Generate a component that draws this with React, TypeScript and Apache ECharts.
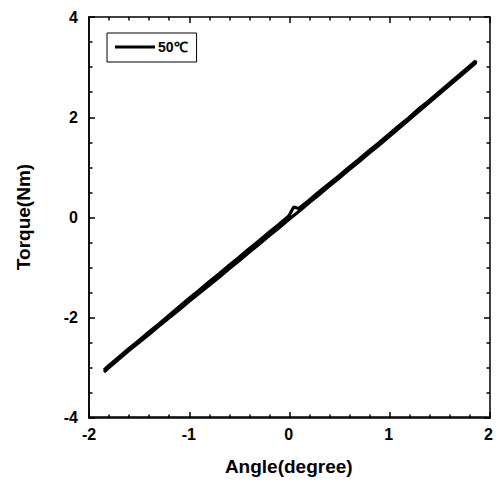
import React, { useEffect, useRef } from "react";
import * as echarts from "echarts";

// Loading branch (angle increasing)
const upAngle = [-1.85, -1.8, -1.7, -1.6, -1.5, -1.4, -1.3, -1.2, -1.1, -1.0, -0.9, -0.8, -0.7, -0.6, -0.5, -0.4, -0.3, -0.2, -0.1, 0, 0.1, 0.2, 0.3, 0.4, 0.5, 0.6, 0.7, 0.8, 0.9, 1.0, 1.1, 1.2, 1.3, 1.4, 1.5, 1.6, 1.7, 1.8, 1.87];
const upTorque = [-3.10, -3.01, -2.84, -2.67, -2.51, -2.35, -2.18, -2.02, -1.86, -1.69, -1.53, -1.37, -1.21, -1.04, -0.88, -0.71, -0.55, -0.38, -0.22, -0.05, 0.11, 0.28, 0.44, 0.61, 0.77, 0.94, 1.10, 1.27, 1.43, 1.60, 1.77, 1.94, 2.11, 2.28, 2.45, 2.62, 2.79, 2.96, 3.08];
// Unloading branch (angle decreasing)
const downAngle = [1.87, 1.8, 1.7, 1.6, 1.5, 1.4, 1.3, 1.2, 1.1, 1.0, 0.9, 0.8, 0.7, 0.6, 0.5, 0.4, 0.3, 0.2, 0.1, 0.05, 0, -0.1, -0.2, -0.3, -0.4, -0.5, -0.6, -0.7, -0.8, -0.9, -1.0, -1.1, -1.2, -1.3, -1.4, -1.5, -1.6, -1.7, -1.8, -1.85];
const downTorque = [3.12, 3.00, 2.83, 2.66, 2.49, 2.32, 2.16, 1.98, 1.82, 1.65, 1.48, 1.32, 1.15, 0.99, 0.82, 0.66, 0.50, 0.33, 0.17, 0.20, 0.02, -0.15, -0.31, -0.48, -0.64, -0.81, -0.97, -1.14, -1.30, -1.47, -1.63, -1.80, -1.97, -2.14, -2.30, -2.47, -2.63, -2.80, -2.97, -3.06];

const seriesName = "50℃";
const xName = "Angle(degree)";
const yName = "Torque(Nm)";

export default function App() {
  const ref = useRef<HTMLDivElement>(null);
  useEffect(() => {
    if (!ref.current) return;
    const chart = echarts.init(ref.current, undefined, { renderer: "svg" });
    const data: number[][] = [];
    upAngle.forEach((a, i) => data.push([a, upTorque[i]]));
    downAngle.forEach((a, i) => data.push([a, downTorque[i]]));
    const font = "'Liberation Sans', Arial, sans-serif";
    const axisLine = () => ({ show: true, onZero: false, lineStyle: { color: "#000", width: 1.5 } });
    const axisTick = () => ({ show: true, inside: true, length: 6, lineStyle: { color: "#000", width: 1.5 } });
    const minorTick = (n: number) => ({ show: true, splitNumber: n, length: 3.5, lineStyle: { color: "#000", width: 1.5 } });
    const labelStyle = () => ({ color: "#000", fontFamily: font, fontWeight: "bold", fontSize: 16 });
    const gridBox = { left: 89, right: 6, top: 17, bottom: 63 };
    const tickX = (position: string) => ({
      type: "value", gridIndex: 1, min: -2, max: 2, interval: 1, position,
      axisLine: axisLine(), axisTick: axisTick(), minorTick: minorTick(5),
      axisLabel: { show: false }, splitLine: { show: false },
    });
    const tickY = (position: string) => ({
      type: "value", gridIndex: 1, min: -4, max: 4, interval: 2, position,
      axisLine: axisLine(), axisTick: axisTick(), minorTick: minorTick(4),
      axisLabel: { show: false }, splitLine: { show: false },
    });
    chart.setOption({
      animation: false,
      backgroundColor: "#fff",
      grid: [{ ...gridBox }, { ...gridBox }],
      legend: {
        left: 107,
        top: 33,
        orient: "vertical",
        data: [{ name: seriesName, icon: "rect" }],
        itemWidth: 40,
        itemHeight: 3,
        padding: [7, 9, 8, 8],
        borderColor: "#000",
        borderWidth: 1,
        borderRadius: 0,
        textStyle: { color: "#000", fontFamily: font, fontWeight: "bold", fontSize: 14, padding: [0, 0, 0, -2] },
      },
      xAxis: [
        {
          type: "value", gridIndex: 0, min: -2, max: 2, interval: 1, position: "bottom",
          name: xName, nameLocation: "middle", nameGap: 40,
          nameTextStyle: { color: "#000", fontFamily: font, fontWeight: "bold", fontSize: 19 },
          axisLine: axisLine(), axisTick: { show: false }, minorTick: { show: false },
          axisLabel: { ...labelStyle(), margin: 9 },
          splitLine: { show: false },
        },
        tickX("bottom"),
        tickX("top"),
      ],
      yAxis: [
        {
          type: "value", gridIndex: 0, min: -4, max: 4, interval: 2, position: "left",
          name: yName, nameLocation: "middle", nameGap: 56,
          nameTextStyle: { color: "#000", fontFamily: font, fontWeight: "bold", fontSize: 19 },
          axisLine: axisLine(), axisTick: { show: false }, minorTick: { show: false },
          axisLabel: { ...labelStyle(), margin: 11 },
          splitLine: { show: false },
        },
        tickY("left"),
        tickY("right"),
      ],
      series: [
        {
          name: seriesName,
          type: "line",
          xAxisIndex: 0,
          yAxisIndex: 0,
          data,
          showSymbol: false,
          lineStyle: { color: "#000", width: 3.2 },
          itemStyle: { color: "#000" },
        },
      ],
    });
    return () => chart.dispose();
  }, []);
  return <div ref={ref} style={{ position: "fixed", left: 0, top: 0, width: 496, height: 481 }} />;
}
